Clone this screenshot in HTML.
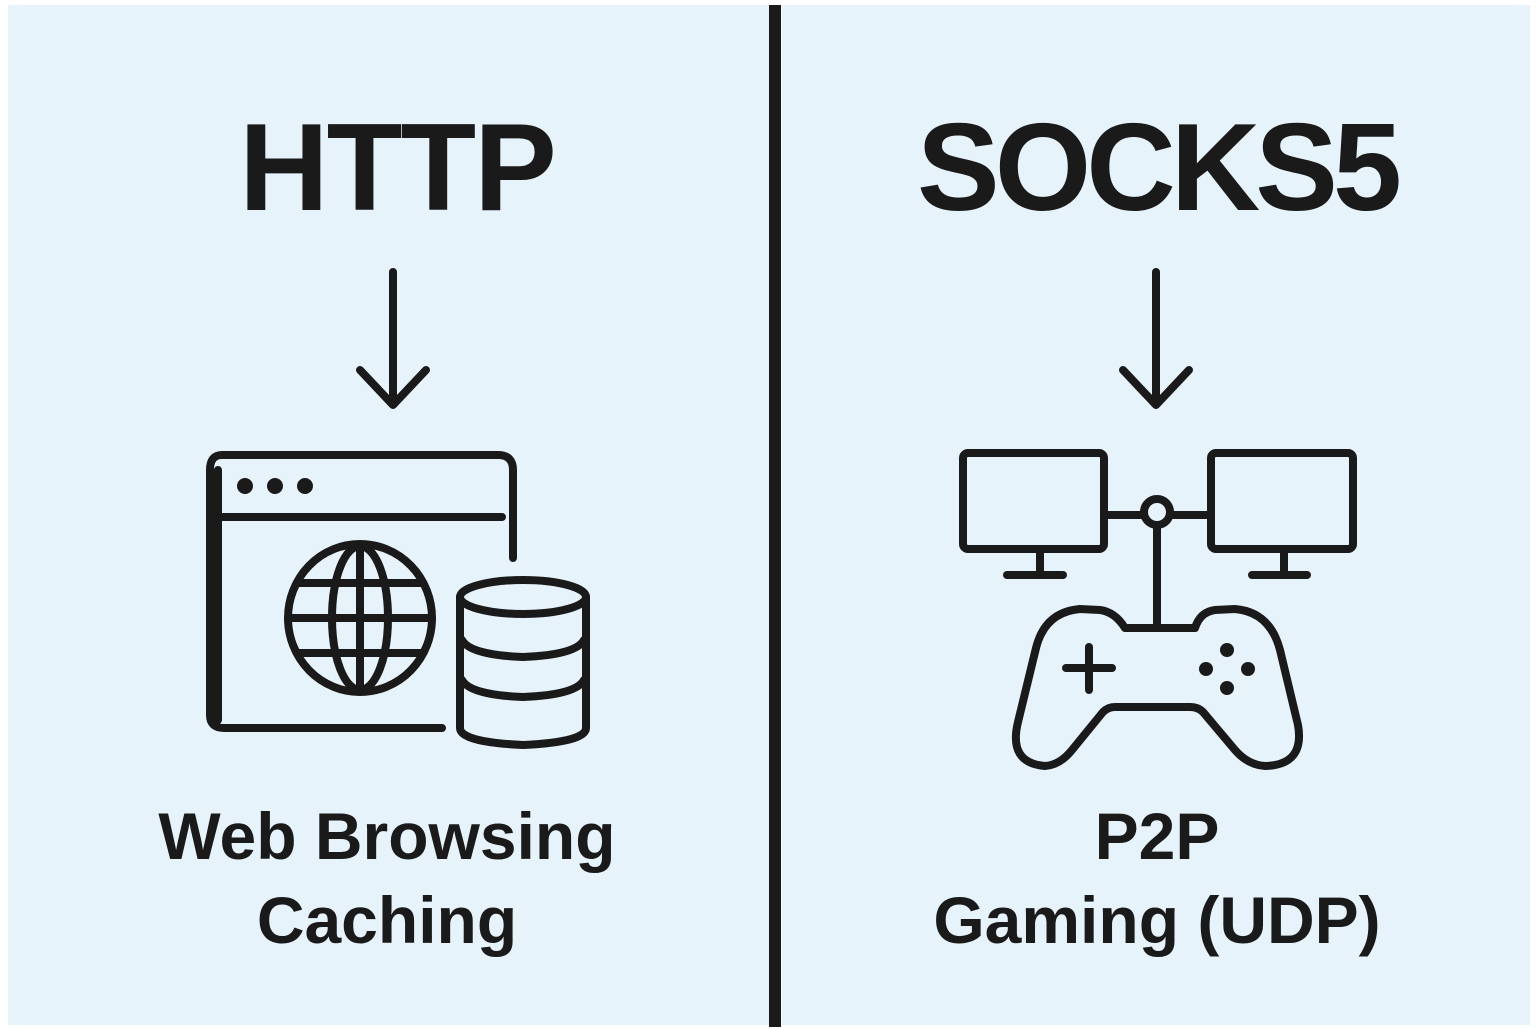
<!DOCTYPE html>
<html><head><meta charset="utf-8"><style>
html,body{margin:0;padding:0;background:#fff}
.wrap{position:relative;width:1537px;height:1029px;overflow:hidden;background:#fff}
.pl{position:absolute;left:8px;top:5px;width:761px;height:1020px;background:#e6f3fa}
.pr{position:absolute;left:782px;top:5px;width:748px;height:1020px;background:#e6f3fa}
.div{position:absolute;left:769px;top:5px;width:12px;height:1022px;background:#1a1a1a}
.t{position:absolute;font-family:"Liberation Sans",sans-serif;font-weight:bold;color:#1a1a1a;text-align:center;white-space:nowrap}
</style></head><body><div class="wrap">
<div class="pl"></div><div class="pr"></div><div class="div"></div>
<div class="t" style="left:197px;width:400px;top:98px;font-size:124px;line-height:140px;letter-spacing:-2px">HTTP</div>
<div class="t" style="left:857px;width:600px;top:98px;font-size:124px;line-height:140px;letter-spacing:-5px">SOCKS5</div>
<div class="t" style="left:137px;width:500px;top:794px;font-size:66px;line-height:84px">Web Browsing<br>Caching</div>
<div class="t" style="left:857px;width:600px;top:794px;font-size:66px;line-height:84px">P2P<br>Gaming (UDP)</div>
<svg width="1537" height="1029" style="position:absolute;left:0;top:0" fill="none" stroke="#1a1a1a" stroke-width="8" stroke-linecap="round" stroke-linejoin="round">
<path d="M393 272V404M360 370L393 405L426 370"/>
<path d="M1156 272V404M1123 370L1156 405L1189 370"/>
<path d="M513 558V470Q513 455 498 455H222Q210 455 210 470V715Q210 728 224 728H442"/>
<path d="M218 517H502M218 470V720"/>
<circle cx="245" cy="486" r="4" fill="#1a1a1a"/><circle cx="275" cy="486" r="4" fill="#1a1a1a"/><circle cx="305" cy="486" r="4" fill="#1a1a1a"/>
<ellipse cx="360" cy="618" rx="72" ry="74"/>
<ellipse cx="360" cy="618" rx="28" ry="72"/>
<path d="M288 618H432M298 583H422M298 653H422M360 546V690"/>
<ellipse cx="523" cy="597" rx="63" ry="17"/>
<path d="M460 597V728Q460 742 523 745Q586 742 586 728V597"/>
<path d="M462 640Q470 655 523 657Q576 655 584 640M462 680Q470 695 523 697Q576 695 584 680"/>
<rect x="963" y="453" width="141" height="96" rx="5"/>
<rect x="1211" y="453" width="142" height="96" rx="5"/>
<path d="M1040 550V572M1007 575H1063M1284 550V572M1252 575H1307"/>
<path d="M1105 515H1143M1171 515H1210M1157 527V625"/>
<circle cx="1157" cy="512" r="13"/>
<path d="M1125 628H1195Q1200 612 1215 610L1235 609Q1270 612 1280 650L1298 725Q1305 765 1265 766Q1248 765 1235 750L1203 712Q1198 707 1190 707H1115Q1108 707 1103 712L1072 750Q1060 765 1045 766Q1008 763 1018 722L1036 648Q1045 612 1080 609L1100 610Q1115 612 1125 628Z"/>
<path d="M1089 647V690M1066 668H1112"/>
<g fill="#1a1a1a" stroke="none"><circle cx="1227" cy="650" r="7"/><circle cx="1206" cy="669" r="7"/><circle cx="1248" cy="669" r="7"/><circle cx="1227" cy="688" r="7"/></g>
</svg>
</div></body></html>
